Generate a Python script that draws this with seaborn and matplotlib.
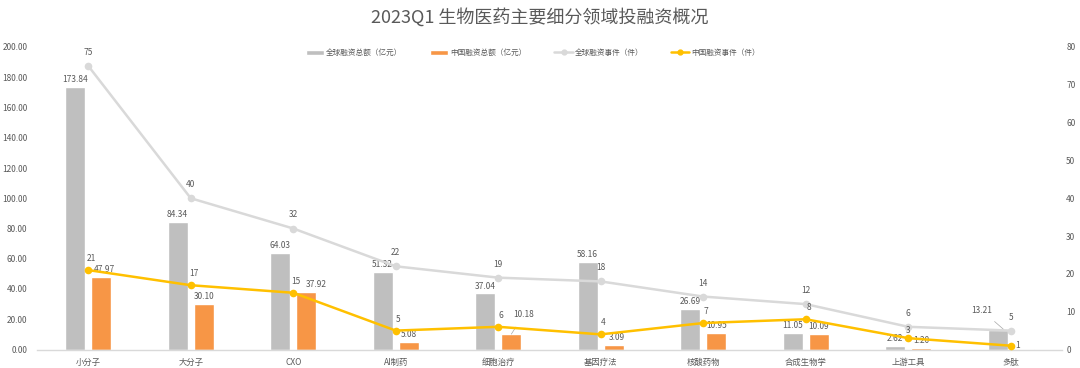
import pandas as pd
import matplotlib
matplotlib.use("Agg")
import matplotlib.pyplot as plt
import seaborn as sns
from matplotlib.patches import Patch
from matplotlib.lines import Line2D


# =========================================
# Data
# =========================================

categories = ["小分子", "大分子", "CXO", "AI制药", "细胞治疗",
              "基因疗法", "核酸药物", "合成生物学", "上游工具", "多肽"]

global_amount = [173.84, 84.34, 64.03, 51.32, 37.04, 58.16, 26.69, 11.05, 2.62, 13.21]
china_amount = [47.97, 30.10, 37.92, 5.08, 10.18, 3.09, 10.95, 10.09, 1.20, 0.6]
china_amount_labels = ["47.97", "30.10", "37.92", "5.08", "10.18",
                       "3.09", "10.95", "10.09", "1.20", ""]

global_events = [75, 40, 32, 22, 19, 18, 14, 12, 6, 5]
china_events = [21, 17, 15, 5, 6, 4, 7, 8, 3, 1]

series_names = ["全球融资总额（亿元）", "中国融资总额（亿元）",
                "全球融资事件（件）", "中国融资事件（件）"]

title = "2023Q1 生物医药主要细分领域投融资概况"


# =========================================
# Style
# =========================================

sns.set_theme(style="white")
plt.rcParams["font.family"] = ["Noto Sans CJK SC", "DejaVu Sans"]

text_color = "#595959"
gray_bar = "#BFBFBF"
orange_bar = "#F79646"
gray_line = "#D9D9D9"
yellow_line = "#FFC000"

bars_df = pd.DataFrame({
    "category": categories * 2,
    "series": [series_names[0]] * len(categories) + [series_names[1]] * len(categories),
    "value": global_amount + china_amount,
})


# =========================================
# Figure
# =========================================

fig = plt.figure(figsize=(10.8, 3.68), dpi=100)
ax = fig.add_axes([37 / 1080, 1 - 349.5 / 368, (1062 - 37) / 1080, (349.5 - 47) / 368])

sns.barplot(
    data=bars_df,
    x="category",
    y="value",
    hue="series",
    order=categories,
    palette=[gray_bar, orange_bar],
    width=0.51,
    gap=0.23,
    saturation=1,
    legend=False,
    ax=ax,
)

ax.set_ylim(0, 200)
ax.set_yticks(range(0, 201, 20))
ax.set_yticklabels([f"{v:.2f}" for v in range(0, 201, 20)])
ax.set_xlabel("")
ax.set_ylabel("")

# bar labels
gray_labels = [f"{v:.2f}" for v in global_amount]
gray_labels[9] = ""
china_labels = list(china_amount_labels)
china_labels[4] = ""

ax.bar_label(ax.containers[0], labels=gray_labels, padding=2,
             fontsize=6, color=text_color)
china_texts = ax.bar_label(ax.containers[1], labels=china_labels, padding=2,
                           fontsize=6, color=text_color)
# a few labels sit a little to the right of their bar
for i, dx in {0: 2, 2: 7, 5: 2}.items():
    china_texts[i].xyann = (dx, 2)

# labels with leader lines
bar = ax.containers[0][9]
ax.annotate(
    "13.21",
    (bar.get_x() + bar.get_width() * 0.8, bar.get_height()),
    xytext=(-16, 14), textcoords="offset points",
    ha="center", va="center", fontsize=6, color=text_color,
    arrowprops=dict(arrowstyle="-", color="#A6A6A6", lw=0.5, shrinkA=4, shrinkB=0),
)
bar = ax.containers[1][4]
ax.annotate(
    china_amount_labels[4],
    (bar.get_x() + bar.get_width() / 2, bar.get_height()),
    xytext=(9, 14), textcoords="offset points",
    ha="center", va="center", fontsize=6, color=text_color,
    arrowprops=dict(arrowstyle="-", color="#A6A6A6", lw=0.5, shrinkA=4, shrinkB=0),
)


# =========================================
# Lines (secondary axis)
# =========================================

ax2 = ax.twinx()
x_pos = list(range(len(categories)))

sns.lineplot(x=x_pos, y=global_events, ax=ax2, color=gray_line,
             linewidth=1.8, marker="o", markersize=5.5, markeredgewidth=0)
sns.lineplot(x=x_pos, y=china_events, ax=ax2, color=yellow_line,
             linewidth=1.8, marker="o", markersize=5.5, markeredgewidth=0)

ax2.set_ylim(0, 80)
ax2.set_yticks(range(0, 81, 10))
ax2.set_ylabel("")

for i, v in enumerate(global_events):
    ax2.annotate(str(v), (i, v), xytext=(0, 6.5), textcoords="offset points",
                 ha="center", va="bottom", fontsize=6, color=text_color)

china_offsets = {8: (0, 2), 9: (5, 0)}
for i, v in enumerate(china_events):
    dx, dy = china_offsets.get(i, (2, 5))
    va = "center" if i == 9 else "bottom"
    ax2.annotate(str(v), (i, v), xytext=(dx, dy), textcoords="offset points",
                 ha="center", va=va, fontsize=6, color=text_color)

ax.set_xlim(-0.5, len(categories) - 0.5)
ax2.set_xlim(-0.5, len(categories) - 0.5)


# =========================================
# Axes styling
# =========================================

for a in (ax, ax2):
    for side in ("top", "left", "right", "bottom"):
        a.spines[side].set_visible(False)
ax.spines["bottom"].set_visible(True)
ax.spines["bottom"].set_color(gray_line)
ax.spines["bottom"].set_linewidth(1)

ax.tick_params(axis="y", length=0, pad=7, labelsize=6, labelcolor=text_color)
ax2.tick_params(axis="y", length=0, pad=3, labelsize=6, labelcolor=text_color)
ax.tick_params(axis="x", which="major", length=0, pad=6, labelsize=6, labelcolor=text_color)
ax.set_xticks([i - 0.5 for i in range(len(categories) + 1)], minor=True)
ax.tick_params(axis="x", which="minor", length=4, width=0.8, color=gray_line)
ax.grid(False)
ax2.grid(False)


# =========================================
# Legend and title
# =========================================

handles = [
    Patch(facecolor=gray_bar),
    Patch(facecolor=orange_bar),
    Line2D([0], [0], color=gray_line, lw=1.8, marker="o", markersize=3.5),
    Line2D([0], [0], color=yellow_line, lw=1.8, marker="o", markersize=3.5),
]
fig.legend(
    handles, series_names,
    loc="center", bbox_to_anchor=(533 / 1080, 1 - 53 / 368),
    ncol=4, frameon=False, fontsize=5.5, labelcolor=text_color,
    handlelength=2.4, handleheight=0.6, handletextpad=0.3, columnspacing=3.6,
)

fig.text(0.5, 1 - 17 / 368, title, ha="center", va="center",
         fontsize=13, color=text_color)

fig.savefig("out.png", dpi=100)
plt.close(fig)
